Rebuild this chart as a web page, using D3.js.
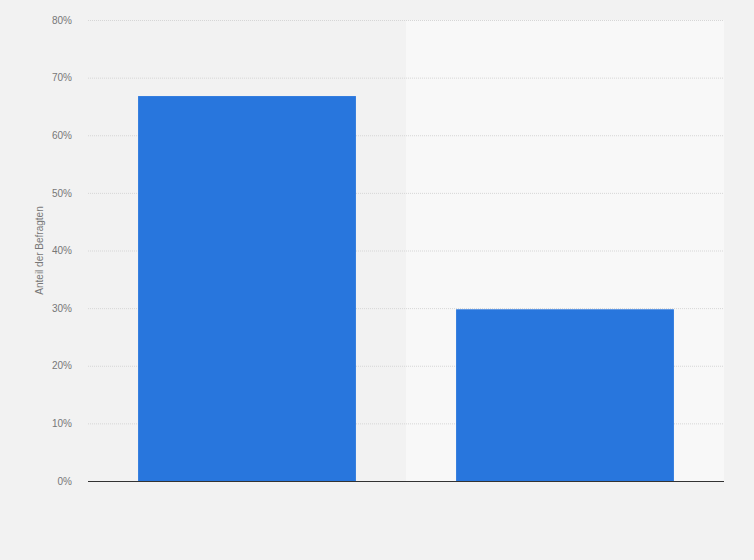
<!DOCTYPE html>
<html lang="de">
<head>
    <meta charset="UTF-8">
    <title>Anteil der Befragten</title>
    <script src="https://d3js.org/d3.v7.min.js"></script>
    <style>
        html, body { margin: 0; padding: 0; background: #f2f2f2; }
        svg { display: block; font-family: "Liberation Sans", Arial, sans-serif; }
    </style>
</head>
<body>
    <div id="chart"></div>
    <script>
        // Data (no category labels are shown)
        const categories = ["Ja", "Nein"];
        const values = [66.8, 29.8];
        const yTicks = [0, 10, 20, 30, 40, 50, 60, 70, 80];
        const yLabel = "Anteil der Befragten";

        const svg = d3.select("#chart").append("svg")
            .attr("width", 754)
            .attr("height", 560);
        const margin = {top: 20, right: 30, bottom: 79, left: 88},
              width = 754 - margin.left - margin.right,
              height = 560 - margin.top - margin.bottom,
              g = svg.append("g").attr("transform", `translate(${margin.left},${margin.top})`);

        svg.append("rect").attr("width", 754).attr("height", 560).attr("fill", "#f2f2f2").lower();

        // Scales
        const band = d3.scaleBand()
            .domain(categories)
            .range([0, width])
            .padding(0);
        const x = d3.scaleBand()
            .domain(categories)
            .range([0, width])
            .paddingInner(0.315)
            .paddingOuter(0.1575);
        const y = d3.scaleLinear()
            .domain([0, 80])
            .range([height, 0]);

        // alternating column shading
        g.selectAll(".stripe")
            .data(categories)
            .enter().append("rect")
            .attr("class", "stripe")
            .attr("x", d => band(d))
            .attr("y", 0)
            .attr("width", band.bandwidth())
            .attr("height", height)
            .attr("fill", (d, i) => i % 2 ? "#f8f8f8" : "#f2f2f2");

        // Grid lines
        g.append("g")
            .selectAll("line")
            .data(yTicks.filter(t => t > 0))
            .enter().append("line")
            .attr("x1", 0)
            .attr("x2", width)
            .attr("y1", d => y(d) + 0.5)
            .attr("y2", d => y(d) + 0.5)
            .attr("stroke", "#d6d6d6")
            .attr("stroke-dasharray", "1,1");

        // Y axis
        const yAxis = g.append("g")
            .call(d3.axisLeft(y).tickValues(yTicks).tickFormat(d => d + "%").tickSize(0).tickPadding(16));
        yAxis.select(".domain").remove();
        yAxis.selectAll("text")
            .style("font-size", "10px")
            .style("fill", "#777");

        svg.append("text")
            .attr("transform", "rotate(-90)")
            .attr("x", -(margin.top + height / 2))
            .attr("y", 43)
            .attr("text-anchor", "middle")
            .style("font-size", "10px")
            .style("fill", "#777")
            .text(yLabel);

        // Bars
        g.selectAll(".bar")
            .data(categories)
            .enter().append("rect")
            .attr("class", "bar")
            .attr("x", d => x(d))
            .attr("y", (d, i) => y(values[i]))
            .attr("width", x.bandwidth())
            .attr("height", (d, i) => height - y(values[i]))
            .attr("fill", "#2876dd");

        // Baseline
        g.append("line")
            .attr("x1", 0)
            .attr("x2", width)
            .attr("y1", height + 0.5)
            .attr("y2", height + 0.5)
            .attr("stroke", "#333")
            .attr("stroke-width", 1.2);
    </script>
</body>
</html>
